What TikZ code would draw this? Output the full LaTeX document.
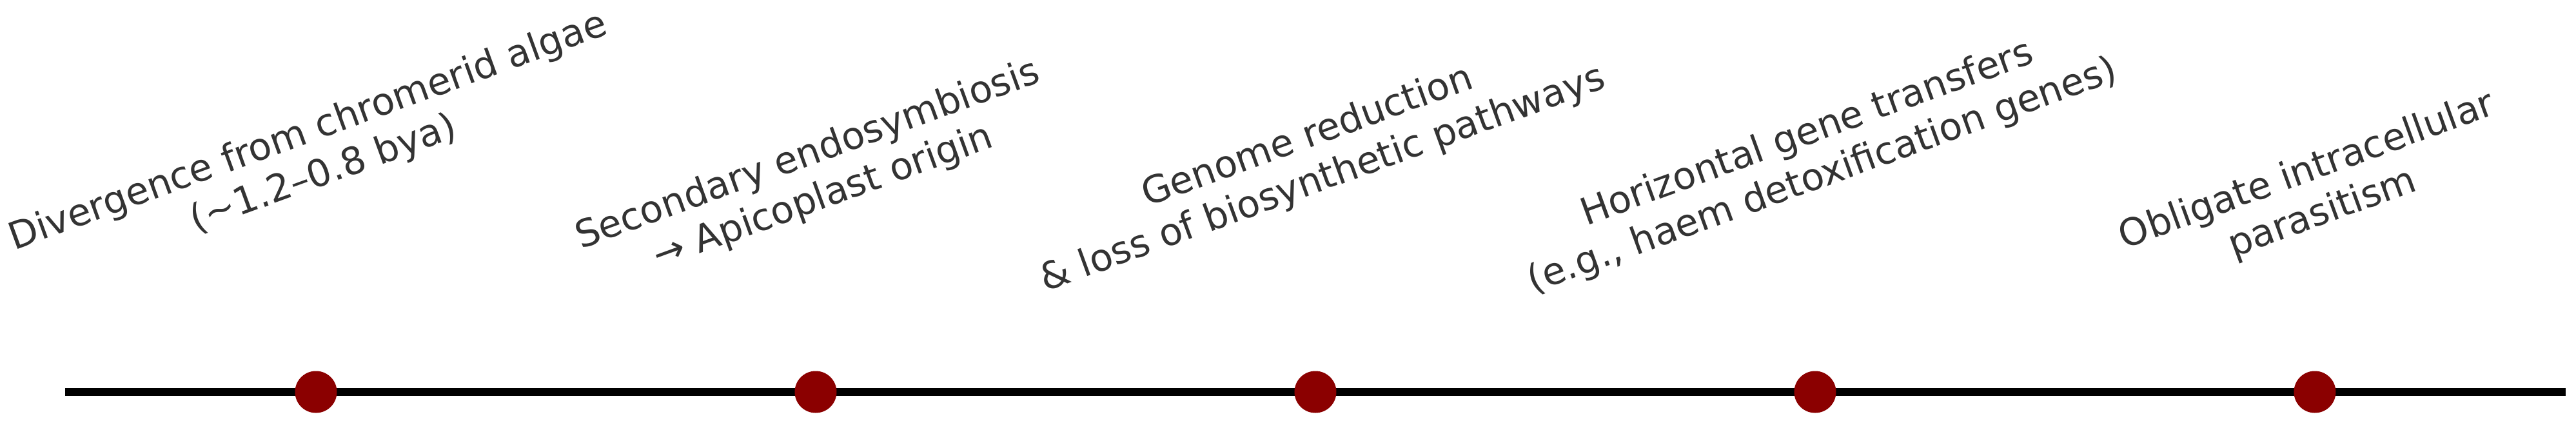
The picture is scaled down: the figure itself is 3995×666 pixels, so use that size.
\documentclass[tikz,border=0pt]{standalone}
\usepackage{fontspec}
\setmainfont{DejaVu Sans}
\usepackage{tikz}
\usetikzlibrary{arrows,positioning}
\definecolor{eventred}{HTML}{8B0000}
\definecolor{labelgray}{HTML}{333333}

\begin{document}
\begin{tikzpicture}[x=0.24pt,y=0.24pt,node distance=186pt,
        event/.style={circle,fill=eventred,inner sep=0pt,minimum size=15.6pt},
        lbl/.style={rotate=20,align=center,text=labelgray,font=\fontsize{14}{16.8}\selectfont},
        timeline/.style={line width=3pt,black}]
            \useasboundingbox (0,0) rectangle (3995,666);

            \coordinate (tstart) at (101,58);
            \coordinate (tend)   at (3979,58);
            \draw   [timeline] (tstart) -- (tend);

            \node   [event]                         (e1) at (490,58) {};
            \node   [event]     [right of=e1]       (e2) {};
            \node   [event]     [right of=e2]       (e3) {};
            \node   [event]     [right of=e3]       (e4) {};
            \node   [event]     [right of=e4]       (e5) {};

            \node   [lbl]   (l1) at (490,428)  {Divergence from chromerid algae\\(\textasciitilde1.2–0.8 bya)};
            \node   [lbl]   (l2) at (1265,392) {Secondary endosymbiosis\\→ Apicoplast origin};
            \node   [lbl]   (l3) at (2040,420) {Genome reduction\\\& loss of biosynthetic pathways};
            \node   [lbl]   (l4) at (2815,425) {Horizontal gene transfers\\(e.g., haem detoxification genes)};
            \node   [lbl]   (l5) at (3590,367) {Obligate intracellular\\parasitism};
        \end{tikzpicture}
\end{document}
